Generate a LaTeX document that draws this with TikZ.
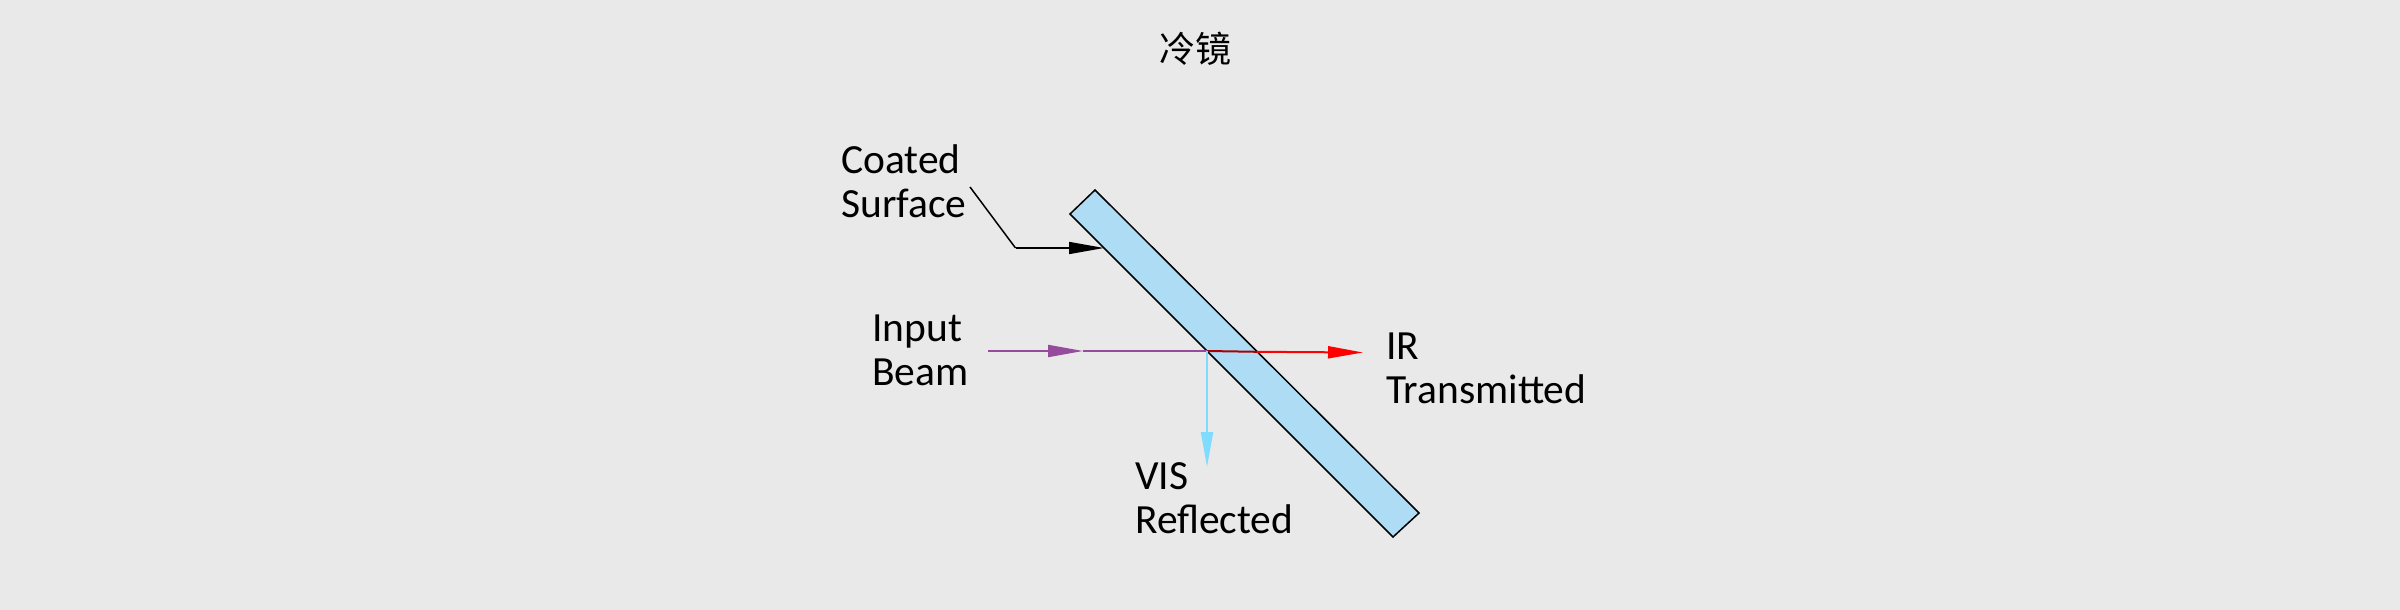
\documentclass[tikz,border=0pt]{standalone}
\usepackage{fontspec}
\setmainfont{Carlito}
\newfontfamily\cjk{Noto Sans CJK SC}
\usetikzlibrary{arrows.meta}
\definecolor{bg}{RGB}{233,233,233}
\definecolor{mirrorblue}{RGB}{174,220,245}
\definecolor{inpurple}{RGB}{150,76,156}
\definecolor{visblue}{RGB}{128,220,255}
\definecolor{irred}{RGB}{255,0,0}
\definecolor{darkred}{RGB}{170,0,0}
\begin{document}
\begin{tikzpicture}[x=1pt,y=-1pt,
  lbl/.style={font=\fontsize{41.5}{44}\selectfont, align=left, anchor=base west, inner sep=0pt},
  beam/.style={line width=2pt},
  tipped/.style={-{Triangle[length=35pt,width=12pt]}}]
\useasboundingbox[fill=bg] (0,0) rectangle (2400,610);
\node[font=\cjk\fontsize{36}{36}\selectfont, inner sep=0pt] (title) at (1195,49) {冷镜};
% mirror
\coordinate (mtop) at (1095,190);
\coordinate (mright) at (1419,513);
\coordinate (mbot) at (1393,537);
\coordinate (mleft) at (1070,214);
\draw[fill=mirrorblue, line width=1.5pt] (mtop) -- (mright) -- (mbot) -- (mleft) -- cycle;
% labels (anchor = baseline of the last line)
\node[lbl] (coated) at (841,217) {Coated\\Surface};
\node[lbl] (input) at (872,385) {Input\\Beam};
\node[lbl] (ir) at (1386,403.3) {IR\\Transmitted};
\node[lbl] (vis) at (1135,533.3) {VIS\\Reflected};
% leader
\coordinate (l0) at (970,187);
\coordinate (l1) at (1015.5,248);
\coordinate (ltip) at (1104,248);
\draw[line width=1.5pt] (l0) -- (l1);
\draw[line width=1.5pt, tipped] (l1) -- (ltip);
% beams
\coordinate (in0) at (988,351);
\coordinate (inarrow) at (1083,351);
\coordinate (hit) at (1207,351);
\coordinate (back) at (1257,351.8);
\coordinate (irtip) at (1363,352.5);
\coordinate (vistip) at (1207,467);
\draw[inpurple, beam, tipped] (in0) -- (inarrow);
\draw[inpurple, beam] (inarrow) -- (hit);
\draw[darkred, beam] (hit) -- (back);
\draw[irred, beam, tipped] (back) -- (irtip);
\draw[visblue, beam, tipped] (hit) -- (vistip);
\end{tikzpicture}
\end{document}
